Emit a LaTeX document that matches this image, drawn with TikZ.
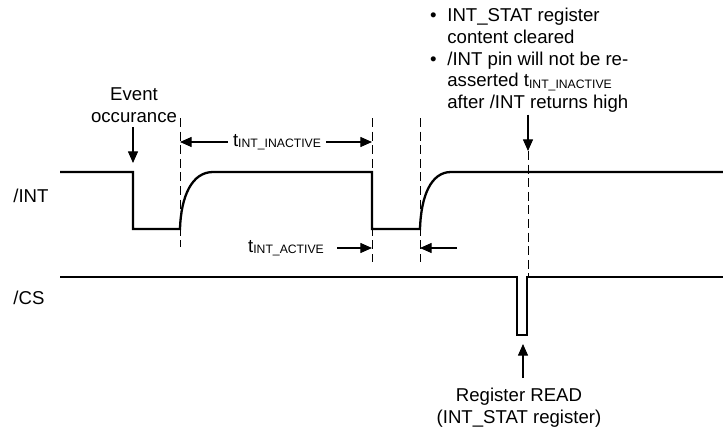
\documentclass[tikz,border=0pt]{standalone}
\usepackage{fontspec}
\setmainfont{Liberation Sans}
\usetikzlibrary{arrows.meta}
\newcommand{\tsub}[1]{t\raisebox{-0.7pt}{\fontsize{6.1}{6.1}\selectfont #1}}
\newcommand{\bul}{\llap{\textbullet\hspace{5.4pt}}}

\begin{document}
\begin{tikzpicture}[x=0.5pt,y=-0.5pt,
		signal/.style={line width=1.15pt},
		marker/.style={line width=0.5pt,dash pattern=on 4.5pt off 2.3pt},
		pointer/.style={line width=0.55pt,-{Triangle[length=5.8pt,width=5pt]}},
		lbl/.style={font=\fontsize{9.3}{10.8}\selectfont,inner sep=0pt},
		gap/.style={lbl,inner sep=2.5pt}]
		\useasboundingbox (0,0) rectangle (723,428);

		% /INT waveform
		\coordinate (I0) at (60,172);
		\coordinate (I1) at (133,172);
		\coordinate (I2) at (133,229);
		\coordinate (I3) at (180,229);
		\coordinate (I4) at (213,172);
		\coordinate (I5) at (372,172);
		\coordinate (I6) at (372,229);
		\coordinate (I7) at (420,229);
		\coordinate (I8) at (451,172);
		\coordinate (I9) at (723,172);

		% /CS waveform
		\coordinate (C0) at (60,277);
		\coordinate (C1) at (517,277);
		\coordinate (C2) at (517,335);
		\coordinate (C3) at (527,335);
		\coordinate (C4) at (527,277);
		\coordinate (C5) at (723,277);

		\draw[signal] (I0) -- (I1) -- (I2) -- (I3) .. controls (181,196) and (192,172) .. (I4) -- (I5) -- (I6) -- (I7) .. controls (421,196) and (431,172) .. (I8) -- (I9);% /INT
		\draw[signal] (C0) -- (C1) -- (C2) -- (C3) -- (C4) -- (C5);% /CS

		\node[lbl,anchor=west] (int) at (13,196) {/INT};
		\node[lbl,anchor=west] (cs) at (13,298) {/CS};

		% timing markers
		\coordinate (inact-l) at (180,142);
		\coordinate (inact-r) at (372,142);
		\coordinate (act-r) at (372,248);
		\coordinate (act-l) at (420,248);
		\coordinate (act-tail) at (457,248);
		\coordinate (clr-tip) at (528,151);
		\coordinate (read-tip) at (523,344);
		\coordinate (event-tip) at (133,163);

		\draw[marker] (180,118) -- (180,247);
		\draw[marker] (372,118) -- (372,262);
		\draw[marker] (420,118) -- (420,262);
		\draw[marker] (clr-tip) -- (528,276);

		% labels and pointers
		\node[lbl,align=center,anchor=south] (event) at (134,123) {Event\\occurance};
		\draw[pointer] ([yshift=-2pt]event.south -| event-tip) -- (event-tip);

		\node[gap] (tinact) at (277,142) {\tsub{INT\_INACTIVE}};
		\draw[pointer] (tinact.west) -- (inact-l);
		\draw[pointer] (tinact.east) -- (inact-r);

		\node[gap] (tact) at (286,248) {\tsub{INT\_ACTIVE}};
		\draw[pointer] ([xshift=4pt]tact.east) -- (act-r);
		\draw[pointer] (act-tail) -- (act-l);

		\node[lbl,align=left,anchor=north west] (note) at (447,8) {\bul INT\_STAT register\\content cleared\\\bul /INT pin will not be re-\\asserted \tsub{INT\_INACTIVE}\\after /INT returns high};
		\draw[pointer] ([yshift=-1pt]note.south -| clr-tip) -- (clr-tip);

		\node[lbl,align=center,anchor=north] (read) at (519,388) {Register READ\\(INT\_STAT register)};
		\draw[pointer] ([yshift=5pt]read.north -| read-tip) -- (read-tip);
	\end{tikzpicture}
\end{document}
